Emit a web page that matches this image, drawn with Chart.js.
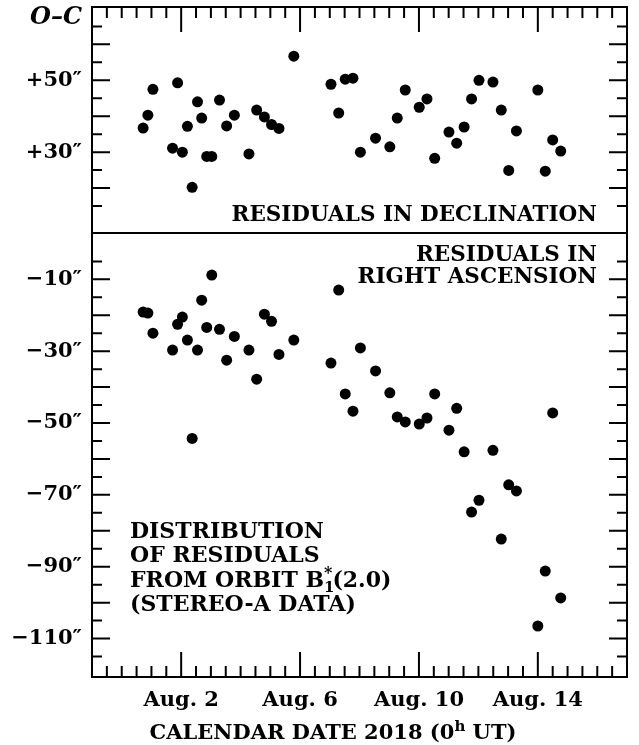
<!DOCTYPE html>
<html>
<head>
<meta charset="utf-8">
<script src="https://cdn.jsdelivr.net/npm/chart.js@4.4.1/dist/chart.umd.min.js"></script>
<style>
  body { margin: 0; background: #fff; }
  canvas { display: block; }
</style>
</head>
<body>
<canvas id="residualChart" width="639" height="745"></canvas>
<script>
// observation times, days of August 2018 (0h UT)
const obsDays = [0.72, 0.88, 1.05, 1.71, 1.88, 2.04, 2.21, 2.37, 2.55, 2.69, 2.86, 3.03,
  3.29, 3.53, 3.79, 4.28, 4.54, 4.80, 5.04, 5.29, 5.79, 7.04, 7.30, 7.52, 7.78, 8.03,
  8.54, 9.02, 9.27, 9.54, 10.01, 10.27, 10.53, 11.01, 11.27, 11.52, 11.77, 12.02, 12.49,
  12.77, 13.02, 13.28, 14.00, 14.25, 14.50, 14.77];

// O-C residuals in arcsec
const decResiduals = [36.7, 40.3, 47.5, 31.1, 49.3, 30.0, 37.2, 20.2, 44.0, 39.5, 28.8, 28.8,
  44.5, 37.3, 40.3, 29.5, 41.7, 39.8, 37.7, 36.6, 56.7, 48.9, 40.9, 50.3, 50.6, 30.0,
  33.9, 31.5, 39.5, 47.3, 42.5, 44.8, 28.3, 35.6, 32.5, 37.0, 44.8, 50.0, 49.5,
  41.7, 24.9, 35.9, 47.3, 24.7, 33.4, 30.3];
const raResiduals = [-19.1, -19.4, -25.0, -29.7, -22.5, -20.5, -26.9, -54.3, -29.7, -15.8, -23.4, -8.8,
  -23.9, -32.5, -25.9, -29.7, -37.8, -19.7, -21.7, -30.9, -26.9, -33.3, -13.0, -41.9, -46.7, -29.1,
  -35.5, -41.6, -48.3, -49.7, -50.3, -48.6, -41.9, -52.0, -45.9, -58.0, -74.8, -71.5, -57.6,
  -82.3, -67.2, -68.9, -106.5, -91.2, -47.2, -98.7];

const dateLabelDays = [2, 6, 10, 14];
const decLabelValues = [30, 50];
const raLabelValues = [-10, -30, -50, -70, -90, -110];
const decTickValues = [15, 20, 25, 30, 35, 40, 45, 50, 55, 60, 65];
const raTickValues = [-115, -110, -105, -100, -95, -90, -85, -80, -75, -70, -65, -60,
  -55, -50, -45, -40, -35, -30, -25, -20, -15, -10, -5];

const SERIF = '"DejaVu Serif", "Liberation Serif", serif';
const tickFont = { family: SERIF, weight: 'bold', size: 21 };

// half-day tick marks along the date axis
const halfDayTicks = [];
for (let d = -0.5; d < 17; d += 0.5) halfDayTicks.push(d);

function noEdgePadding(s) {
  s.paddingTop = 0; s.paddingBottom = 0; s.paddingLeft = 0; s.paddingRight = 0;
}

function yAxis(opts, tickValues, label) {
  return Object.assign({
    type: 'linear',
    position: 'left',
    stack: 'residuals',
    afterBuildTicks: s => { s.ticks = tickValues.map(v => ({ value: v })); },
    afterFit: s => { s.width = 92; noEdgePadding(s); },
    grid: { display: false, drawTicks: false, tickLength: 0 },
    border: { display: false },
    ticks: { autoSkip: false, padding: 10, color: '#000', font: tickFont, callback: label }
  }, opts);
}

// text with a raised or lowered piece, drawn left to right
function drawPieces(ctx, pieces, x, y) {
  pieces.forEach(p => {
    ctx.font = p.font;
    ctx.fillText(p.text, x, y + (p.dy || 0));
    x += p.advance === undefined ? ctx.measureText(p.text).width : p.advance;
  });
}
function piecesWidth(ctx, pieces) {
  return pieces.reduce((w, p) => {
    ctx.font = p.font;
    return w + (p.advance === undefined ? ctx.measureText(p.text).width : p.advance);
  }, 0);
}

const frameAndLabels = {
  id: 'frameAndLabels',
  afterDraw(chart) {
    const { ctx, chartArea: a, scales } = chart;
    const x = scales.x, yDec = scales.yDec, yRA = scales.yRA;
    ctx.save();
    ctx.strokeStyle = '#000';
    ctx.fillStyle = '#000';
    ctx.lineWidth = 2;
    ctx.strokeRect(a.left, a.top, a.right - a.left, a.bottom - a.top);
    ctx.beginPath();
    ctx.moveTo(a.left, yDec.bottom);
    ctx.lineTo(a.right, yDec.bottom);
    ctx.stroke();

    // inward tick marks on all four sides
    ctx.beginPath();
    x.ticks.forEach(t => {
      const px = x.getPixelForValue(t.value);
      const len = dateLabelDays.includes(t.value) ? 25 : 11;
      ctx.moveTo(px, a.bottom); ctx.lineTo(px, a.bottom - len);
      ctx.moveTo(px, a.top); ctx.lineTo(px, a.top + len);
    });
    [yDec, yRA].forEach(s => s.ticks.forEach(t => {
      const py = s.getPixelForValue(t.value);
      const len = t.value % 10 === 0 ? 18 : 10;
      ctx.moveTo(a.left, py); ctx.lineTo(a.left + len, py);
      ctx.moveTo(a.right, py); ctx.lineTo(a.right - len, py);
    }));
    ctx.stroke();

    const bold = size => 'bold ' + size + 'px ' + SERIF;
    ctx.textBaseline = 'alphabetic';

    ctx.textAlign = 'right';
    ctx.font = 'italic ' + bold(24);
    ctx.fillText('O\u2013C', a.left - 10, 24);

    ctx.font = bold(21.5);
    ctx.fillText('RESIDUALS IN DECLINATION', a.right - 30, 221);
    ctx.fillText('RESIDUALS IN', a.right - 30, 261);
    ctx.fillText('RIGHT ASCENSION', a.right - 30, 283);

    ctx.textAlign = 'left';
    const bx = 130;
    ctx.font = bold(22);
    ctx.fillText('DISTRIBUTION', bx, 538);
    ctx.fillText('OF RESIDUALS', bx, 562);
    ctx.fillText('(STEREO-A DATA)', bx, 611);
    const orbit = [
      { text: 'FROM ORBIT B', font: bold(22) },
      { text: '1', font: bold(15), dy: 5, advance: 0 },
      { text: '*', font: bold(16), dy: -9 },
      { text: '(2.0)', font: bold(22) }
    ];
    drawPieces(ctx, orbit, bx, 587);

    const title = [
      { text: 'CALENDAR DATE 2018 (0', font: bold(21) },
      { text: 'h', font: bold(15), dy: -8 },
      { text: ' UT)', font: bold(21) }
    ];
    const tw = piecesWidth(ctx, title);
    drawPieces(ctx, title, 333 - tw / 2, 739);
    ctx.restore();
  }
};

new Chart(document.getElementById('residualChart'), {
  type: 'scatter',
  data: {
    datasets: [{
      label: 'Declination',
      data: obsDays.map((d, i) => ({ x: d, y: decResiduals[i] })),
      yAxisID: 'yDec'
    }, {
      label: 'Right ascension',
      data: obsDays.map((d, i) => ({ x: d, y: raResiduals[i] })),
      yAxisID: 'yRA'
    }]
  },
  options: {
    responsive: false,
    animation: false,
    devicePixelRatio: 1,
    layout: { padding: { top: 7, right: 12, bottom: 0, left: 0 } },
    elements: {
      point: { radius: 5.5, hoverRadius: 5.5, backgroundColor: '#000', borderWidth: 0 }
    },
    plugins: { legend: { display: false }, tooltip: { enabled: false } },
    scales: {
      x: {
        type: 'linear',
        min: -1,
        max: 17,
        afterBuildTicks: s => { s.ticks = halfDayTicks.map(v => ({ value: v })); },
        afterFit: s => { s.height = 68; noEdgePadding(s); },
        grid: { display: false, drawTicks: false, tickLength: 0 },
        border: { display: false },
        ticks: {
          autoSkip: false, maxRotation: 0, padding: 11, color: '#000', font: tickFont,
          callback: v => dateLabelDays.includes(v) ? 'Aug. ' + v : ''
        }
      },
      yRA: yAxis({ min: -120.7, max: 2.9, stackWeight: 444 }, raTickValues,
        v => raLabelValues.includes(v) ? '\u2212' + Math.abs(v) + '\u2033' : ''),
      yDec: yAxis({ min: 7.5, max: 70.4, stackWeight: 226 }, decTickValues,
        v => decLabelValues.includes(v) ? '+' + v + '\u2033' : '')
    }
  },
  plugins: [frameAndLabels]
});
</script>
</body>
</html>
